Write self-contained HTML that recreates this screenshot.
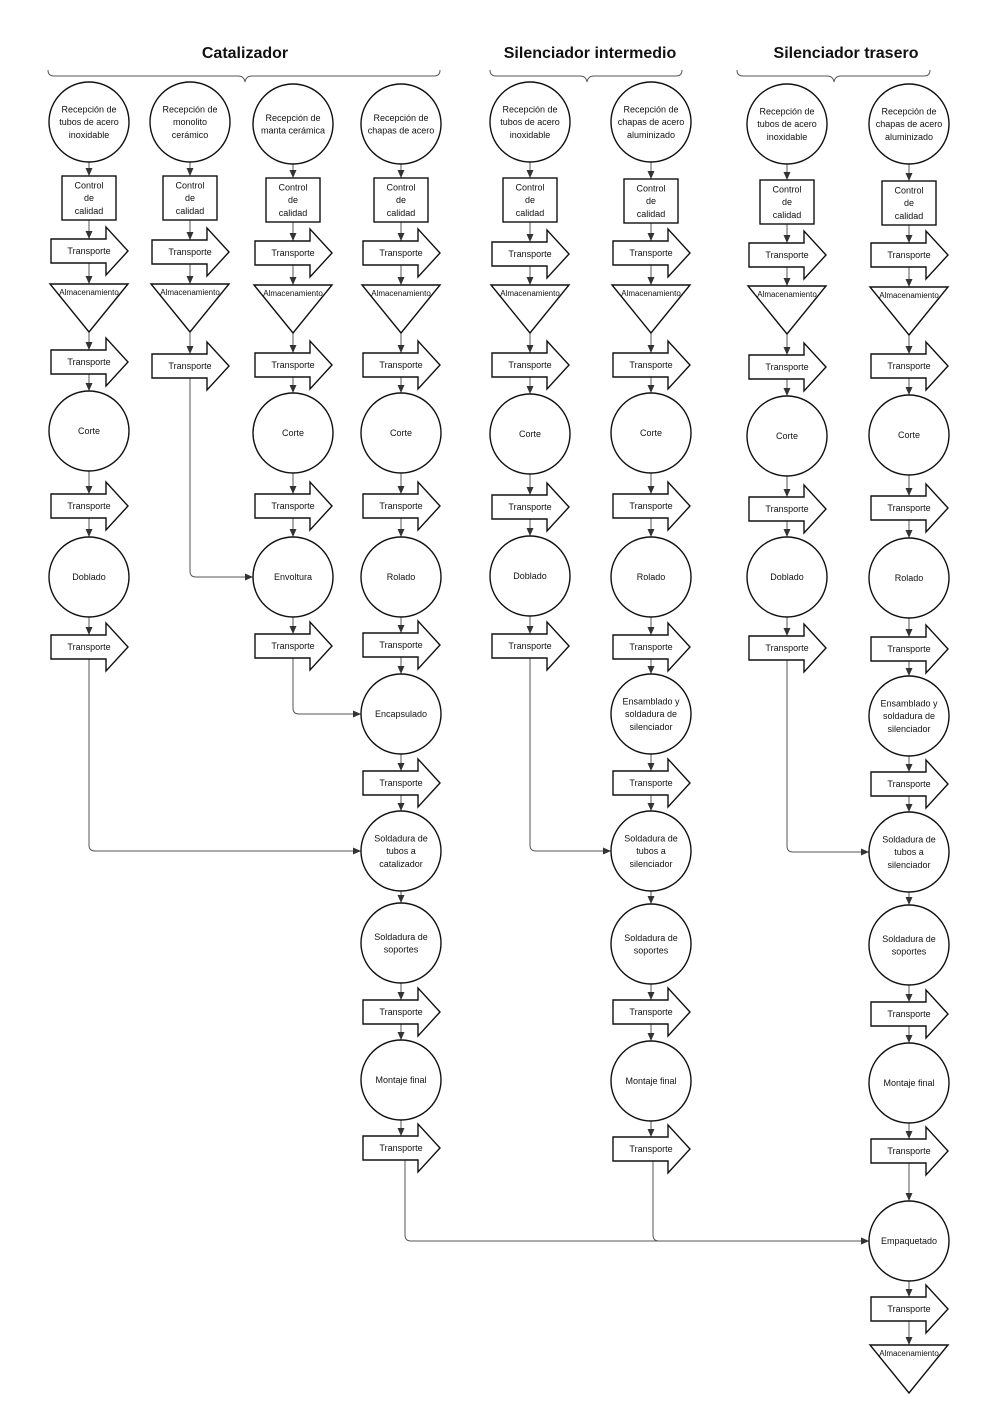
<!DOCTYPE html>
<html><head><meta charset="utf-8"><style>
html,body{margin:0;padding:0;background:#fff;}
svg{display:block;}
text{font-family:"Liberation Sans",sans-serif;fill:#111;}
</style></head><body>
<svg id="s" width="1000" height="1422" viewBox="0 0 1000 1422" xmlns="http://www.w3.org/2000/svg">
<rect width="1000" height="1422" fill="#fff"/>
<text x="245" y="58" font-size="16" font-weight="bold" text-anchor="middle">Catalizador</text>
<text x="590" y="58" font-size="16" font-weight="bold" text-anchor="middle">Silenciador intermedio</text>
<text x="846" y="58" font-size="16" font-weight="bold" text-anchor="middle">Silenciador trasero</text>
<g fill="none" stroke="#555" stroke-width="1">
<path d="M48,70 Q48,76 54,76 L238,76 Q244,76 245,82 Q246,76 252,76 L434,76 Q440,76 440,70"/>
<path d="M490,70 Q490,76 496,76 L580,76 Q586,76 587,82 Q588,76 594,76 L676,76 Q682,76 682,70"/>
<path d="M737,70 Q737,76 743,76 L827,76 Q833,76 834,82 Q835,76 841,76 L924,76 Q930,76 930,70"/>
</g>
<g id="conn"></g>
<g id="nodes"></g>
</svg>
<script>
const NS="http://www.w3.org/2000/svg";
const conn=document.getElementById('conn'),nodes=document.getElementById('nodes');
function el(p,tag,attrs,txt){const e=document.createElementNS(NS,tag);for(const k in attrs)e.setAttribute(k,attrs[k]);if(txt!==undefined)e.textContent=txt;p.appendChild(e);return e;}
function label(x,y,lines,fs){const lh=fs*1.4;const y0=y-(lines.length-1)*lh/2+fs*0.35;lines.forEach((l,i)=>el(nodes,'text',{x:x,y:y0+i*lh,'font-size':fs,'text-anchor':'middle'},l));}
function ah(x,y,dir){// arrowhead tip at x,y
 if(dir==='d')el(conn,'path',{d:`M${x-3.5},${y-8} L${x+3.5},${y-8} L${x},${y} Z`,fill:'#333'});
 else el(conn,'path',{d:`M${x-8},${y-3.5} L${x-8},${y+3.5} L${x},${y} Z`,fill:'#333'});}
const S={stroke:'#111','stroke-width':1.4,fill:'#fff'};
function node(c,n){const [t,y,txt]=n;
 if(t==='C'){el(nodes,'circle',Object.assign({cx:c,cy:y,r:40},S));label(c,y,txt||[],9);return [y-40,y+40];}
 if(t==='B'){el(nodes,'rect',Object.assign({x:c-27,y:y-22,width:54,height:44},S));label(c,y,['Control','de','calidad'],9);return [y-22,y+22];}
 if(t==='T'){el(nodes,'path',Object.assign({d:`M${c-38},${y-12} L${c+17},${y-12} L${c+17},${y-24} L${c+39},${y} L${c+17},${y+24} L${c+17},${y+12} L${c-38},${y+12} Z`},S));label(c,y,['Transporte'],9);return [y-12,y+12];}
 if(t==='A'){el(nodes,'path',Object.assign({d:`M${c-39},${y} L${c+39},${y} L${c},${y+48} Z`},S));el(nodes,'text',{x:c,y:y+11,'font-size':8,'text-anchor':'middle'},'Almacenamiento');return [y,y+48];}}
const R=l=>['C',0,l];
const cols=[
[89,[['C',122,['Recepción de','tubos de acero','inoxidable']],['B',198],['T',251],['A',284],['T',362],['C',431,['Corte']],['T',506],['C',577,['Doblado']],['T',647]]],
[190,[['C',122,['Recepción de','monolito','cerámico']],['B',198],['T',252],['A',284],['T',366]]],
[293,[['C',124,['Recepción de','manta cerámica']],['B',200],['T',253],['A',285],['T',365],['C',433,['Corte']],['T',506],['C',577,['Envoltura']],['T',646]]],
[401,[['C',124,['Recepción de','chapas de acero']],['B',200],['T',253],['A',285],['T',365],['C',433,['Corte']],['T',506],['C',577,['Rolado']],['T',645],['C',714,['Encapsulado']],['T',783],['C',851,['Soldadura de','tubos a','catalizador']],['C',943,['Soldadura de','soportes']],['T',1012],['C',1080,['Montaje final']],['T',1148]]],
[530,[['C',122,['Recepción de','tubos de acero','inoxidable']],['B',200],['T',254],['A',285],['T',365],['C',434,['Corte']],['T',507],['C',576,['Doblado']],['T',646]]],
[651,[['C',122,['Recepción de','chapas de acero','aluminizado']],['B',201],['T',253],['A',285],['T',365],['C',433,['Corte']],['T',506],['C',577,['Rolado']],['T',647],['C',714,['Ensamblado y','soldadura de','silenciador']],['T',783],['C',851,['Soldadura de','tubos a','silenciador']],['C',944,['Soldadura de','soportes']],['T',1012],['C',1081,['Montaje final']],['T',1149]]],
[787,[['C',124,['Recepción de','tubos de acero','inoxidable']],['B',202],['T',255],['A',286],['T',367],['C',436,['Corte']],['T',509],['C',577,['Doblado']],['T',648]]],
[909,[['C',124,['Recepción de','chapas de acero','aluminizado']],['B',203],['T',255],['A',287],['T',366],['C',435,['Corte']],['T',508],['C',578,['Rolado']],['T',649],['C',716,['Ensamblado y','soldadura de','silenciador']],['T',784],['C',852,['Soldadura de','tubos a','silenciador']],['C',945,['Soldadura de','soportes']],['T',1014],['C',1083,['Montaje final']],['T',1151],['C',1241,['Empaquetado']],['T',1309],['A',1345]]]
];
const L={stroke:'#555','stroke-width':1,fill:'none'};
cols.forEach(([c,ns])=>{let prev=null;ns.forEach(n=>{const [t,b]=node(c,n);if(prev!==null){el(conn,'line',Object.assign({x1:c,y1:prev,x2:c,y2:t},L));ah(c,t,'d');}prev=b;});});
function side(x1,y1,ymid,x2){el(conn,'path',Object.assign({d:`M${x1},${y1} L${x1},${ymid-6} Q${x1},${ymid} ${x1+6},${ymid} L${x2},${ymid}`},L));ah(x2,ymid,'r');}
side(89,659,851,361);
side(190,378,577,253);
side(293,658,714,361);
side(405,1160,1241,869);
side(530,658,851,611);
side(653,1161,1241,869);
side(787,660,852,869);
</script>
</body></html>
